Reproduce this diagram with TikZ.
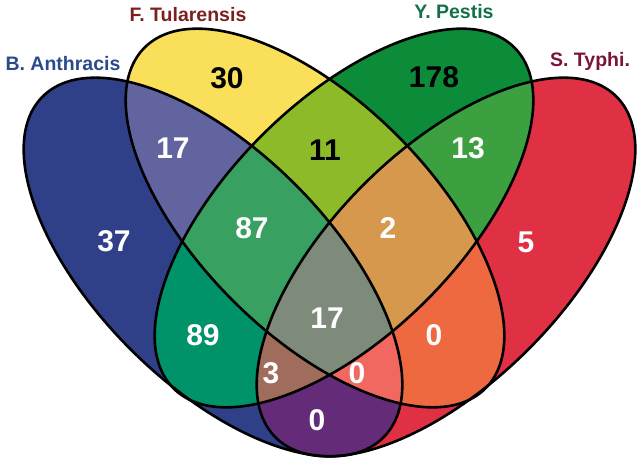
\documentclass[tikz,border=0pt]{standalone}
\usepackage{fontspec}
\setmainfont{Liberation Sans}
\definecolor{aonly}{HTML}{304088}
\definecolor{bonly}{HTML}{FAE05A}
\definecolor{conly}{HTML}{0C8C38}
\definecolor{donly}{HTML}{E03044}
\definecolor{ab}{HTML}{6264A0}
\definecolor{ac}{HTML}{009268}
\definecolor{ad}{HTML}{642C78}
\definecolor{bc}{HTML}{8CBA28}
\definecolor{bd}{HTML}{EE6840}
\definecolor{cd}{HTML}{3CA040}
\definecolor{abc}{HTML}{38A060}
\definecolor{abd}{HTML}{F06860}
\definecolor{acd}{HTML}{A06C5C}
\definecolor{bcd}{HTML}{D6984C}
\definecolor{abcd}{HTML}{7E8A7A}
\definecolor{antcol}{HTML}{2B4A8C}
\definecolor{tulcol}{HTML}{7B1F1F}
\definecolor{pescol}{HTML}{137048}
\definecolor{typcol}{HTML}{7A1438}

\begin{document}
\begin{tikzpicture}[x=1pt,y=1pt,
  num/.style={font=\fontsize{30}{32}\selectfont\bfseries,text=white,inner sep=0pt},
  numdark/.style={num,text=black},
  setlbl/.style={font=\fontsize{19.5}{22}\selectfont\bfseries,inner sep=0pt},
  outline/.style={draw=black,line width=2.6pt}]
  \useasboundingbox (0,0) rectangle (642,467);
  \def\setA{(213,200) circle [x radius=241pt,y radius=116.5pt,rotate=-45]}
  \def\setB{(315,249) circle [x radius=241pt,y radius=116.5pt,rotate=-45]}
  \def\setC{(344,249) circle [x radius=241pt,y radius=116.5pt,rotate=45]}
  \def\setD{(446,200) circle [x radius=241pt,y radius=116.5pt,rotate=45]}

  % ===== single sets =====
  \fill[aonly] \setA;
  \fill[donly] \setD;
  \fill[bonly] \setB;
  \fill[conly] \setC;

  % ===== pairs =====
  \begin{scope}\clip \setA; \fill[ab] \setB; \end{scope}
  \begin{scope}\clip \setA; \fill[ac] \setC; \end{scope}
  \begin{scope}\clip \setA; \fill[ad] \setD; \end{scope}
  \begin{scope}\clip \setB; \fill[bc] \setC; \end{scope}
  \begin{scope}\clip \setB; \fill[bd] \setD; \end{scope}
  \begin{scope}\clip \setC; \fill[cd] \setD; \end{scope}

  % ===== triples =====
  \begin{scope}\clip \setA; \clip \setB; \fill[abc] \setC; \end{scope}
  \begin{scope}\clip \setA; \clip \setB; \fill[abd] \setD; \end{scope}
  \begin{scope}\clip \setA; \clip \setC; \fill[acd] \setD; \end{scope}
  \begin{scope}\clip \setB; \clip \setC; \fill[bcd] \setD; \end{scope}

  % ===== all four =====
  \begin{scope}\clip \setA; \clip \setB; \clip \setC; \fill[abcd] \setD; \end{scope}

  % ===== outlines =====
  \draw[outline] \setA;
  \draw[outline] \setB;
  \draw[outline] \setC;
  \draw[outline] \setD;

  % ===== set names =====
  \node[setlbl,text=antcol] (lblA) at (63,403) {B. Anthracis};
  \node[setlbl,text=tulcol] (lblB) at (188,452) {F. Tularensis};
  \node[setlbl,text=pescol] (lblC) at (454,455) {Y. Pestis};
  \node[setlbl,text=typcol] (lblD) at (590,406) {S. Typhi.};

  % ===== counts =====
  \node[num] (nA) at (114,226) {37};
  \node[numdark] (nB) at (227,389) {30};
  \node[numdark] (nC) at (434,390) {178};
  \node[num] (nD) at (526,225) {5};
  \node[num] (nAB) at (173,319) {17};
  \node[numdark] (nBC) at (325,317) {11};
  \node[num] (nCD) at (468,319) {13};
  \node[num] (nABC) at (252,239) {87};
  \node[num] (nBCD) at (388,239) {2};
  \node[num] (nAC) at (203,132) {89};
  \node[num] (nABCD) at (327,149) {17};
  \node[num] (nBD) at (434,132) {0};
  \node[num] (nACD) at (271,94) {3};
  \node[num] (nABD) at (357,94) {0};
  \node[num] (nAD) at (317,47) {0};
\end{tikzpicture}
\end{document}
